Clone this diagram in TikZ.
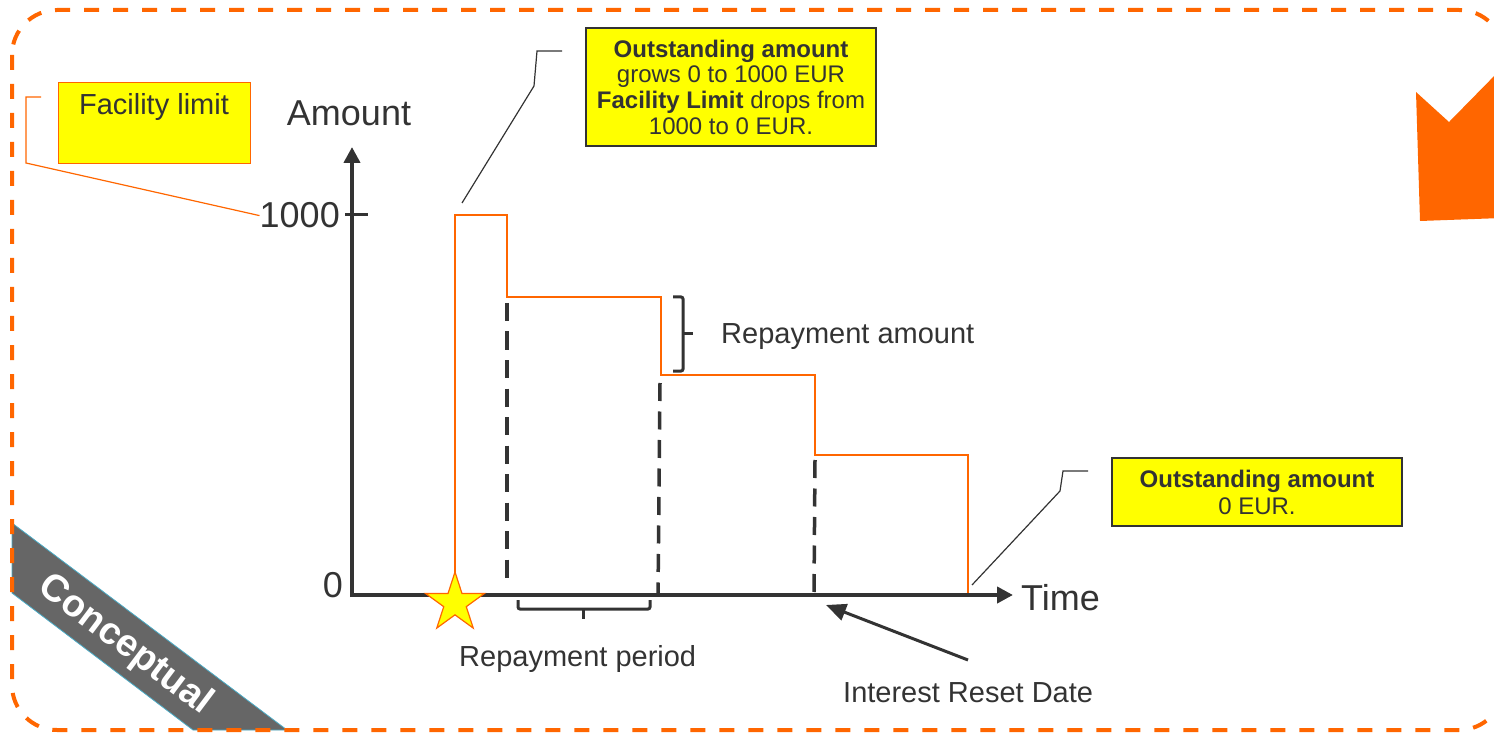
\documentclass[tikz,border=0pt]{standalone}
\usepackage{fontspec}
\setmainfont{Liberation Sans}
\usetikzlibrary{arrows.meta,shapes.geometric}
\definecolor{org}{HTML}{FF6600}
\definecolor{ylw}{HTML}{FFFF00}
\definecolor{dk}{HTML}{333333}
\definecolor{bandgray}{HTML}{666666}
\definecolor{bandedge}{HTML}{4BACC6}
\tikzset{
  lbl/.style={text=dk, inner sep=0pt},
  bigfont/.style={font=\fontsize{36}{40}\selectfont},
  medfont/.style={font=\fontsize{29}{32}\selectfont},
  boxtxt/.style={align=center, text=dk, inner sep=0pt},
  ybox/.style={fill=ylw, draw=dk, line width=1.5pt},
  callout/.style={draw=dk, line width=1.2pt},
  axisline/.style={draw=dk, line width=4pt},
  stepline/.style={draw=org, line width=2.5pt},
  dashv/.style={draw=dk, line width=3.5pt, dash pattern=on 18pt off 10.5pt},
  bracket/.style={draw=dk, line width=3pt},
}
\begin{document}
\begin{tikzpicture}[x=1pt,y=-1pt]
\useasboundingbox (0,0) rectangle (1494,735);
\clip (0,0) rectangle (1494,735);

% conceptual band
\fill[bandgray, draw=bandedge, line width=0.8pt] (12,523) -- (287,730) -- (193,730) -- (12,593) -- cycle;
\node[text=white, font=\bfseries\fontsize{38}{40}\selectfont, rotate=-37, inner sep=0pt] (concept) at (125,645) {Conceptual};

% dashed rounded border
\draw[org, line width=4pt, dash pattern=on 15pt off 14pt, rounded corners=45pt] (12,10) rectangle (1504,730);

% orange chevron top right
\fill[org] (1416,92) -- (1449,122) -- (1502,68) -- (1502,218) -- (1420,221) -- cycle;

% coordinates
\coordinate (O) at (352,597);
\coordinate (Ox) at (350,595);
\coordinate (ytip) at (352,147);
\coordinate (xtip) at (1013,595);

% step line
\draw[stepline] (455,595) -- (455,215) -- (507,215) -- (507,297) -- (661,297) -- (661,375) -- (815,375) -- (815,455) -- (968,455) -- (968,595);

% dashed verticals
\draw[dashv] (507,303) -- (507,585);
\draw[dashv] (660,383) -- (658,595);
\draw[dashv] (815,460) -- (814,592);

% axes
\draw[axisline, -{Triangle[length=16pt,width=16pt]}] (O) -- (ytip);
\draw[axisline, -{Triangle[length=16pt,width=16pt]}] (Ox) -- (xtip);
\draw[dk, line width=3pt] (345,215) -- (368,215);

% axis labels
\node[lbl, bigfont, anchor=base] (amount) at (349,126) {Amount};
\node[lbl, bigfont, anchor=base east] (k1000) at (340,228) {1000};
\node[lbl, bigfont, anchor=base east] (zero) at (343,597) {0};
\node[lbl, bigfont, anchor=base west] (time) at (1021,610) {Time};

% star
\node[star, star points=5, star point ratio=2.618, minimum size=62pt, inner sep=0pt, fill=ylw, draw=org, line width=1.2pt] (start) at (455,603) {};

% repayment amount bracket
\draw[bracket, rounded corners=2pt] (673,297) -- (683,297) -- (683,371) -- (673,371);
\draw[bracket] (683,334) -- (693,334);
\node[lbl, medfont, anchor=base west] (ramount) at (721,343) {Repayment amount};

% repayment period bracket
\draw[bracket, rounded corners=2pt] (518,600) -- (518,609) -- (650,609) -- (650,600);
\draw[bracket] (583,609) -- (583,619);
\node[lbl, medfont, anchor=base west] (rperiod) at (459,666) {Repayment period};

% interest reset date
\node[lbl, medfont, anchor=base west] (ird) at (843,702) {Interest Reset Date};
\coordinate (irdtail) at (968,660);
\coordinate (irdtip) at (826,605);
\draw[dk, line width=3pt, -{Triangle[length=20pt,width=17pt]}] (irdtail) -- (irdtip);

% facility limit box
\node[fill=ylw, draw=org, line width=1.2pt, minimum width=192pt, minimum height=81pt, anchor=north west, inner sep=0pt] (facbox) at (58,82) {};
\node[lbl, medfont, anchor=base] (factxt) at (154,115) {Facility limit};
\coordinate (fac1) at (41,97);
\coordinate (fac2) at (26,97);
\coordinate (fac3) at (26,163);
\draw[org, line width=1.2pt] (fac1) -- (fac2) -- (fac3) -- (k1000.west);

% top box
\node[ybox, minimum width=290pt, minimum height=118pt, boxtxt, font=\fontsize{24}{25.7}\selectfont] (topbox) at (731,87) {\textbf{Outstanding amount}\\grows 0 to 1000 EUR\\\textbf{Facility Limit} drops from\\1000 to 0 EUR.};
\coordinate (t1) at (462,203);
\coordinate (t2) at (534,86);
\coordinate (t3) at (537,51);
\coordinate (t4) at (562,51);
\draw[callout] (t1) -- (t2) -- (t3) -- (t4);

% end box
\node[ybox, minimum width=290pt, minimum height=68pt, boxtxt, font=\fontsize{24}{27}\selectfont] (endbox) at (1257,492) {\textbf{Outstanding amount}\\0 EUR.};
\coordinate (e1) at (972,585);
\coordinate (e2) at (1060,491);
\coordinate (e3) at (1063,471);
\coordinate (e4) at (1088,471);
\draw[callout] (e1) -- (e2) -- (e3) -- (e4);
\end{tikzpicture}
\end{document}
